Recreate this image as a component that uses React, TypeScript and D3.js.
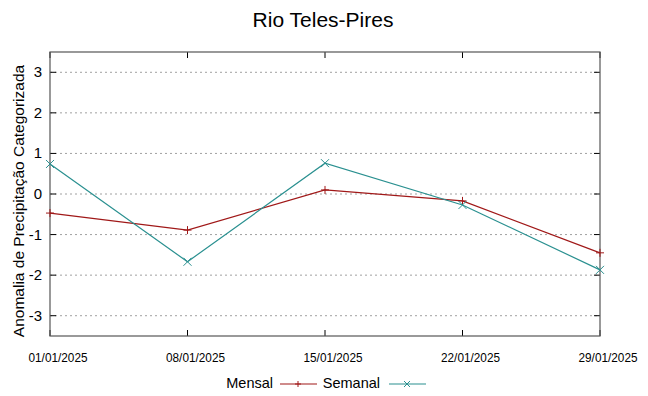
import * as d3 from 'd3';
import { useEffect, useRef } from 'react';

// datas (eixo x) e valores
const datas = ['01/01/2025', '08/01/2025', '15/01/2025', '22/01/2025', '29/01/2025'];
const mensal = [-0.47, -0.89, 0.1, -0.17, -1.45];
const semanal = [0.74, -1.67, 0.76, -0.27, -1.87];
const yTicks = [-3, -2, -1, 0, 1, 2, 3];

export default function App() {
  const svgRef = useRef<SVGSVGElement | null>(null);

  useEffect(() => {
    document.body.style.margin = '0';
    if (!svgRef.current) return;
    const svg = d3.select(svgRef.current);
    svg.selectAll('*').remove();

    const width = 648;
    const height = 396;
    const m = { left: 50, right: 48, top: 52, bottom: 60 };
    const font = 'Liberation Sans, Arial, sans-serif';

    const parse = d3.timeParse('%d/%m/%Y');
    const dates = datas.map(d => parse(d)!);

    const x = d3.scaleTime()
      .domain([dates[0], dates[dates.length - 1]])
      .range([m.left, width - m.right]);
    const y = d3.scaleLinear().domain([-3.5, 3.5]).range([height - m.bottom, m.top]);

    svg.attr('width', width).attr('height', height).attr('font-family', font);

    // título
    svg.append('text')
      .attr('x', 323).attr('y', 27)
      .attr('text-anchor', 'middle')
      .attr('font-size', 21)
      .attr('fill', '#000')
      .text('Rio Teles-Pires');

    // grade horizontal pontilhada
    svg.append('g')
      .selectAll('line')
      .data(yTicks)
      .join('line')
      .attr('x1', m.left).attr('x2', width - m.right)
      .attr('y1', d => y(d)).attr('y2', d => y(d))
      .attr('stroke', '#a0a0a0')
      .attr('stroke-width', 1)
      .attr('stroke-dasharray', '2,3');

    // marcas dos eixos (espelhadas)
    const tk = 6;
    const ticks = svg.append('g').attr('stroke', '#000').attr('stroke-width', 1);
    yTicks.forEach(v => {
      ticks.append('line').attr('x1', m.left).attr('x2', m.left + tk).attr('y1', y(v)).attr('y2', y(v));
      ticks.append('line').attr('x1', width - m.right).attr('x2', width - m.right - tk).attr('y1', y(v)).attr('y2', y(v));
    });
    dates.forEach(d => {
      ticks.append('line').attr('x1', x(d)).attr('x2', x(d)).attr('y1', height - m.bottom).attr('y2', height - m.bottom - tk);
      ticks.append('line').attr('x1', x(d)).attr('x2', x(d)).attr('y1', m.top).attr('y2', m.top + tk);
    });

    // moldura
    svg.append('rect')
      .attr('x', m.left).attr('y', m.top)
      .attr('width', width - m.left - m.right)
      .attr('height', height - m.top - m.bottom)
      .attr('fill', 'none')
      .attr('stroke', '#555')
      .attr('stroke-width', 1.2);

    // rótulos eixo y
    svg.append('g')
      .selectAll('text')
      .data(yTicks)
      .join('text')
      .attr('x', m.left - 8)
      .attr('y', d => y(d) + 5)
      .attr('text-anchor', 'end')
      .attr('font-size', 15)
      .text(d => String(d));

    // rótulos eixo x (deslocados à direita como no original)
    svg.append('g')
      .selectAll('text')
      .data(datas)
      .join('text')
      .attr('x', (_, i) => x(dates[i]) + 8)
      .attr('y', height - m.bottom + 26)
      .attr('text-anchor', 'middle')
      .attr('font-size', 13)
      .attr('textLength', 59)
      .attr('lengthAdjust', 'spacingAndGlyphs')
      .text(d => d);

    // título eixo y
    svg.append('text')
      .attr('transform', `translate(24, ${(m.top + height - m.bottom) / 2 + 7}) rotate(-90)`)
      .attr('text-anchor', 'middle')
      .attr('font-size', 15.5)
      .text('Anomalia de Precipitação Categorizada');

    const series = [
      { nome: 'Mensal', valores: mensal, cor: '#a01818', marca: '+' },
      { nome: 'Semanal', valores: semanal, cor: '#2a9090', marca: 'x' },
    ];

    const line = d3.line<number>()
      .x((_, i) => x(dates[i]))
      .y(d => y(d));

    const marker = (g: d3.Selection<SVGGElement, unknown, null, undefined>, tipo: string, cx: number, cy: number, cor: string, s = 4) => {
      const p = tipo === '+'
        ? `M${cx - s},${cy}L${cx + s},${cy}M${cx},${cy - s}L${cx},${cy + s}`
        : `M${cx - s},${cy - s}L${cx + s},${cy + s}M${cx - s},${cy + s}L${cx + s},${cy - s}`;
      g.append('path').attr('d', p).attr('stroke', cor).attr('stroke-width', 1).attr('fill', 'none');
    };

    const plot = svg.append('g');
    series.forEach(s => {
      plot.append('path')
        .datum(s.valores)
        .attr('d', line)
        .attr('fill', 'none')
        .attr('stroke', s.cor)
        .attr('stroke-width', 1.2);
      const mg = plot.append('g');
      s.valores.forEach((v, i) => marker(mg, s.marca, x(dates[i]), y(v), s.cor));
    });

    // legenda
    const leg = svg.append('g');
    const legY = 384;
    const itens = [
      { ...series[0], tx: 273, lx: 280 },
      { ...series[1], tx: 380, lx: 389 },
    ];
    itens.forEach(it => {
      leg.append('text')
        .attr('x', it.tx).attr('y', legY + 4)
        .attr('text-anchor', 'end')
        .attr('font-size', 14.5)
        .text(it.nome);
      leg.append('line')
        .attr('x1', it.lx).attr('x2', it.lx + 37)
        .attr('y1', legY).attr('y2', legY)
        .attr('stroke', it.cor).attr('stroke-width', 1.2);
      marker(leg, it.marca, it.lx + 18, legY, it.cor, 3);
    });
  }, []);

  return <svg ref={svgRef} style={{ display: 'block' }} />;
}
